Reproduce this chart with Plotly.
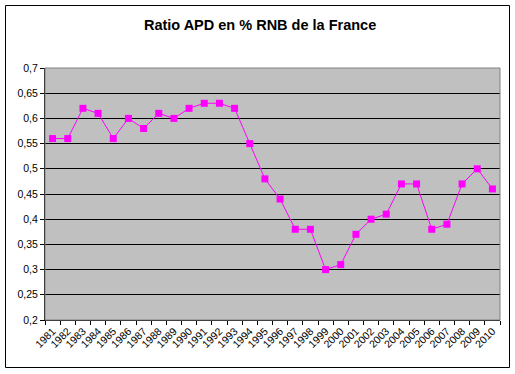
import plotly.graph_objects as go

years = [str(y) for y in range(1981, 2011)]
ratio = [0.56, 0.56, 0.62, 0.61, 0.56, 0.60, 0.58, 0.61, 0.60, 0.62,
         0.63, 0.63, 0.62, 0.55, 0.48, 0.44, 0.38, 0.38, 0.30, 0.31,
         0.37, 0.40, 0.41, 0.47, 0.47, 0.38, 0.39, 0.47, 0.50, 0.46]
y_ticks = [0.2, 0.25, 0.3, 0.35, 0.4, 0.45, 0.5, 0.55, 0.6, 0.65, 0.7]
y_ticklabels = ["0,2", "0,25", "0,3", "0,35", "0,4", "0,45", "0,5", "0,55", "0,6", "0,65", "0,7"]

W, H = 515, 374
ml, mr, mt, mb = 45, 15, 68, 54
pw, ph = W - ml - mr, H - mt - mb

def px_x(p):
    return (p - ml) / pw

def px_y(p):
    return (H - mb - p) / ph

fig = go.Figure()
fig.add_trace(go.Scatter(
    x=years, y=ratio, mode="lines+markers",
    line=dict(color="#FF00FF", width=1),
    marker=dict(symbol="square", size=7, color="#FF00FF"),
    cliponaxis=False,
))

fig.update_layout(
    width=W, height=H,
    margin=dict(l=ml, r=mr, t=mt, b=mb),
    paper_bgcolor="white",
    plot_bgcolor="#C0C0C0",
    showlegend=False,
    font=dict(family="Arial, Liberation Sans", size=10, color="black"),
    title=dict(text="<b>Ratio APD en % RNB de la France</b>",
               x=0.505, xanchor="center", y=1 - 25 / H, yanchor="middle",
               font=dict(family="Arial, Liberation Sans", size=14.5, color="black")),
    xaxis=dict(
        type="category", range=[-0.5, len(years) - 0.5],
        tickangle=-45, tickson="boundaries",
        ticks="outside", ticklen=4, tickcolor="black",
        showline=True, linecolor="black", linewidth=1,
        showgrid=False, zeroline=False,
        tickfont=dict(size=10.5),
    ),
    yaxis=dict(
        range=[0.2, 0.7], tickvals=y_ticks, ticktext=y_ticklabels,
        ticks="outside", ticklen=4, tickcolor="black",
        showline=True, linecolor="black", linewidth=1,
        showgrid=True, gridcolor="black", gridwidth=1,
        zeroline=False, tickfont=dict(size=10.5),
    ),
    shapes=[
        dict(type="rect", xref="paper", yref="paper", x0=0, x1=1, y0=0, y1=1,
             line=dict(color="#808080", width=1), layer="above"),
        dict(type="rect", xref="paper", yref="paper",
             x0=px_x(5.5), x1=px_x(509.5), y0=px_y(5.5), y1=px_y(367.5),
             line=dict(color="black", width=1), layer="above"),
    ],
)

fig.write_html("out.html", config={"displayModeBar": False},
               post_script="document.body.style.margin='0';document.body.style.overflow='hidden';")
